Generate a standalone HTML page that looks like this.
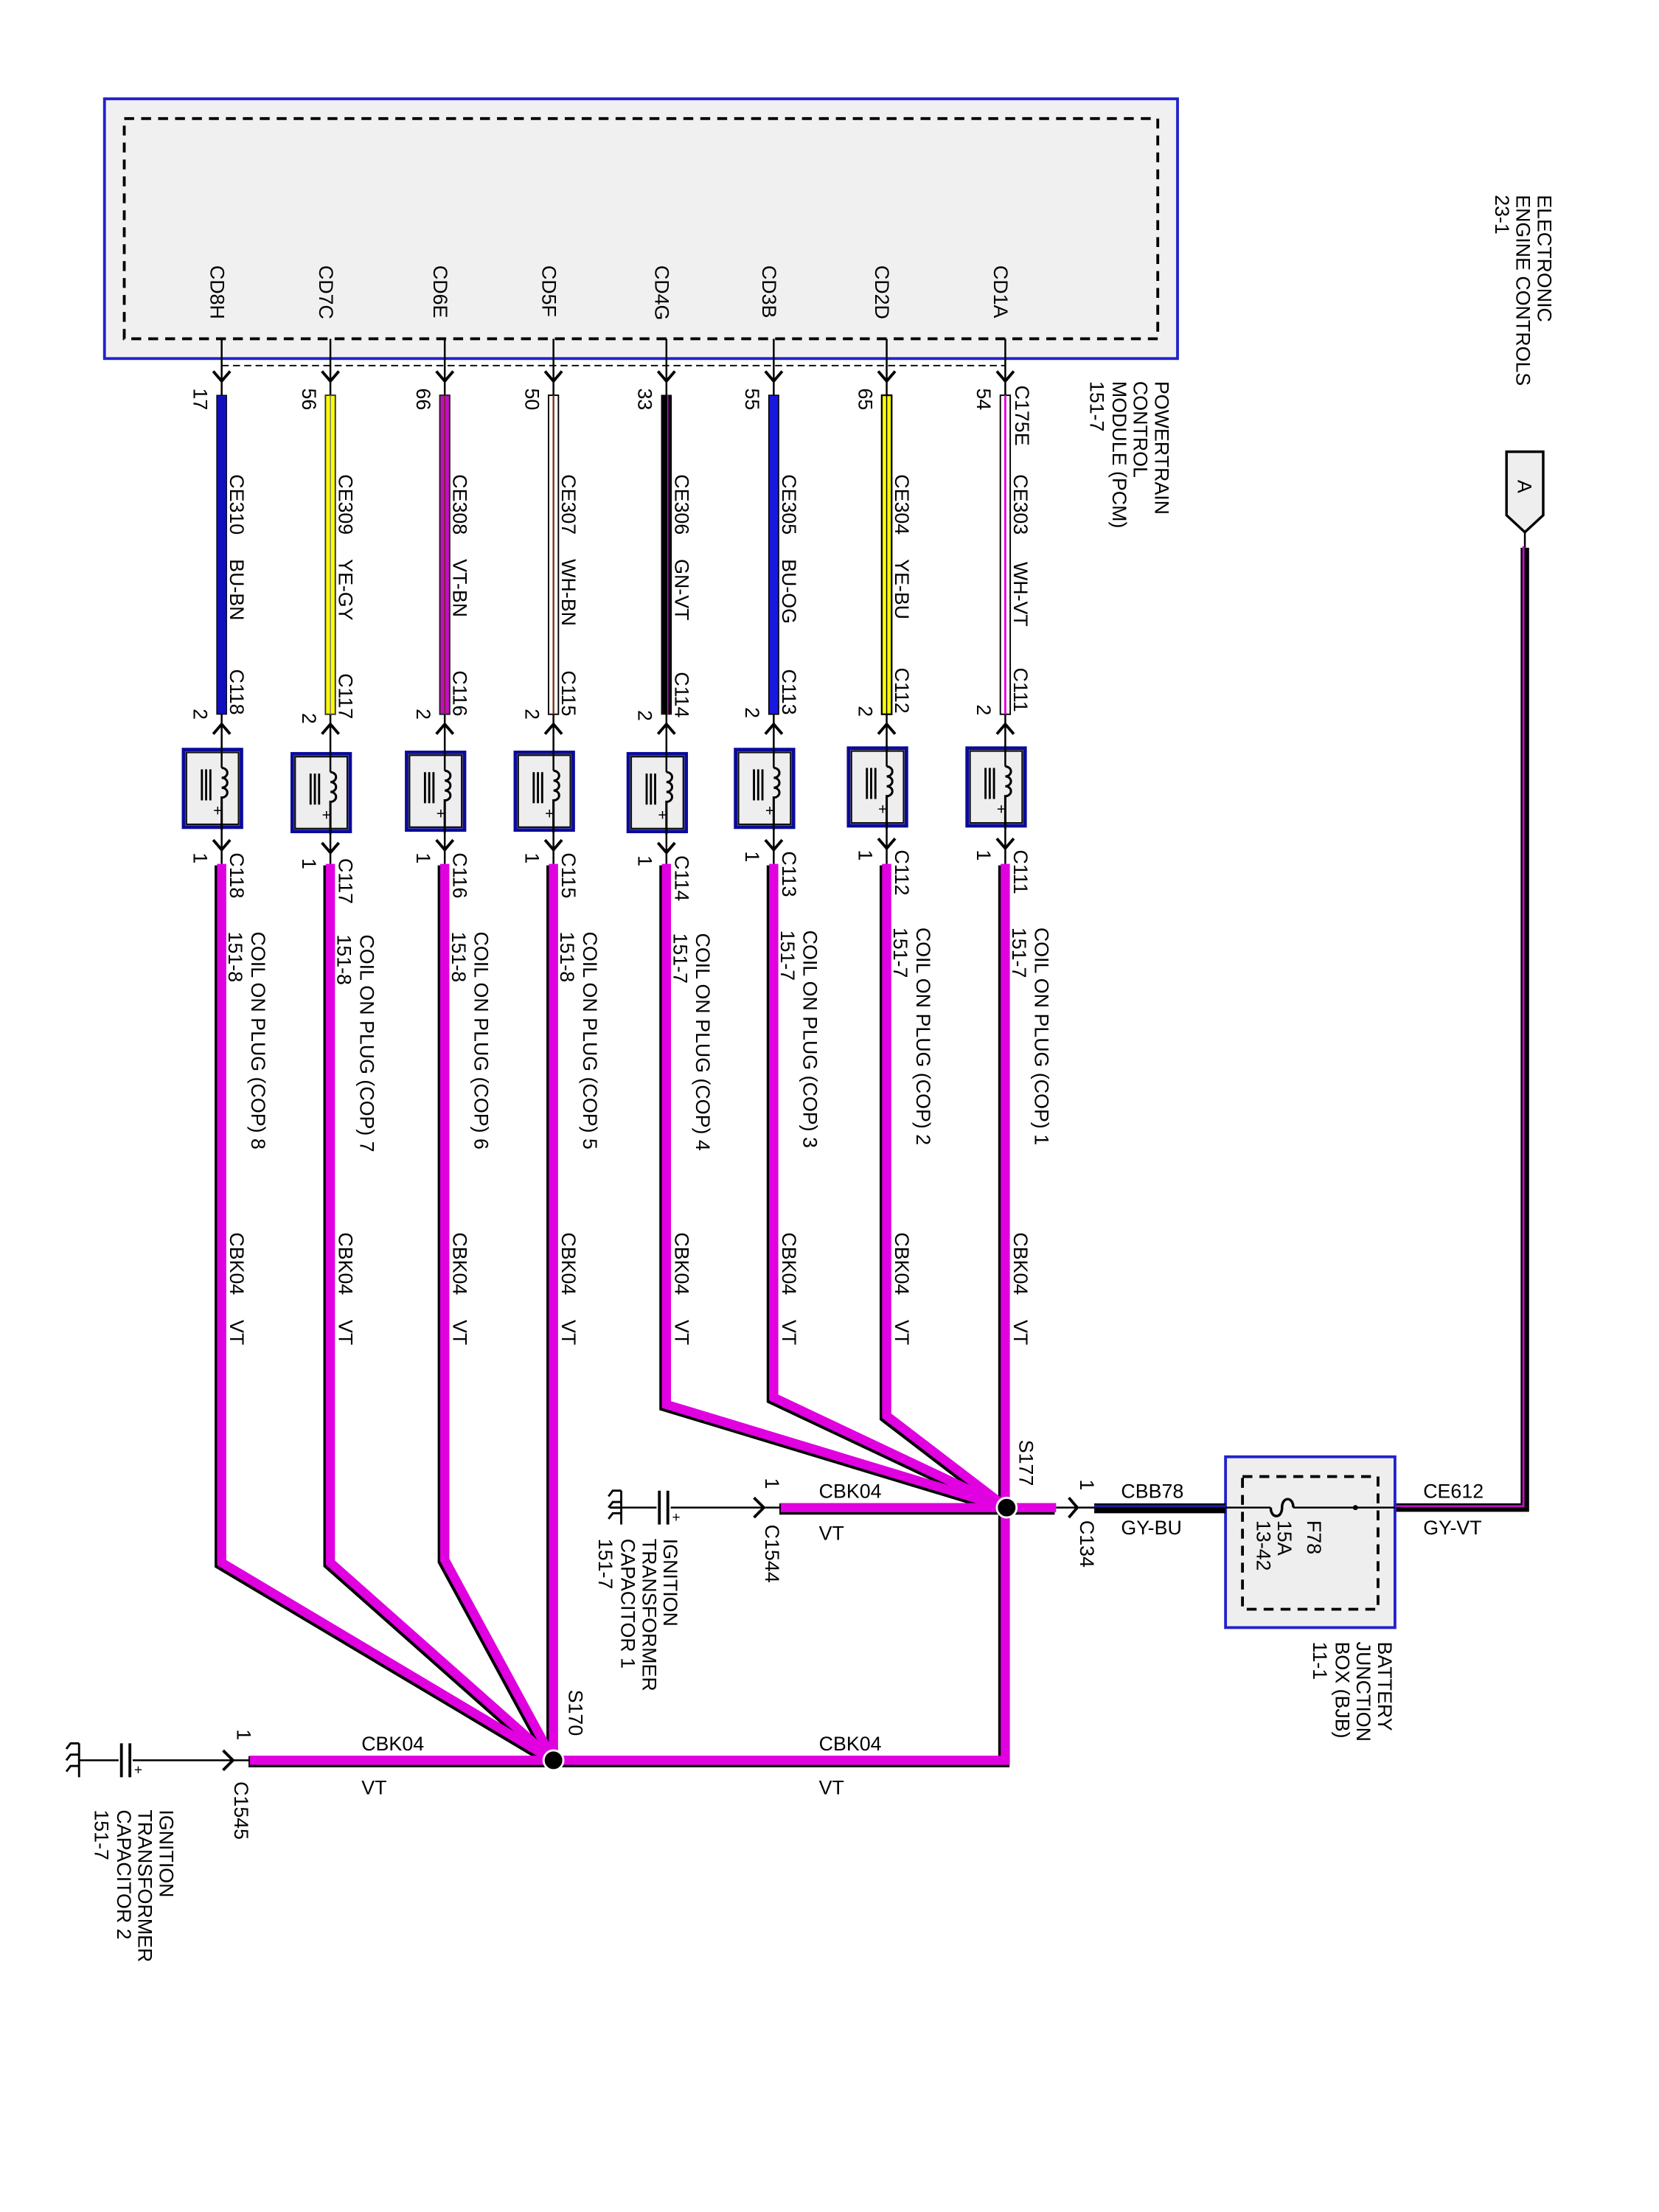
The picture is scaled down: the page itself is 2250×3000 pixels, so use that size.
<!DOCTYPE html>
<html><head><meta charset="utf-8">
<style>
html,body{margin:0;padding:0;background:#fff;}
svg{display:block;}
text{font-family:"Liberation Sans",sans-serif;font-size:14px;fill:#000;}
.s{font-size:13px;}
</style></head>
<body>
<svg width="2250" height="3000" viewBox="0 0 1175 1567" preserveAspectRatio="none" xmlns="http://www.w3.org/2000/svg">
<defs>
<g id="coil">
  <rect x="-27" y="0" width="41" height="55" fill="#eee" stroke="#0a0a9a" stroke-width="2.5"/>
  <rect x="-25" y="2" width="37" height="51" fill="none" stroke="#111" stroke-width="1.2"/>
  <line x1="0" y1="-2" x2="0" y2="13" stroke="#000" stroke-width="1.3"/>
  <path d="M0,13 a4,3.5 0 0 1 0,7 a4,3.5 0 0 1 0,7 a4,3.5 0 0 1 0,7 L0,57" fill="none" stroke="#000" stroke-width="1.6"/>
  <line x1="-14" y1="14" x2="-14" y2="36" stroke="#000" stroke-width="1.5"/>
  <line x1="-11" y1="14" x2="-11" y2="36" stroke="#000" stroke-width="1.5"/>
  <line x1="-8" y1="14" x2="-8" y2="36" stroke="#000" stroke-width="1.5"/>
  <text x="-6" y="47" style="font-size:11px">+</text>
</g>
<path id="dn" d="M-6,-7 L0,0 L6,-7" fill="none" stroke="#000" stroke-width="2"/>
<path id="up" d="M-6,7 L0,0 L6,7" fill="none" stroke="#000" stroke-width="2"/>
</defs>

<!-- PCM -->
<rect x="74" y="70" width="760" height="184" fill="#f0f0f0" stroke="#2222cc" stroke-width="2"/>
<rect x="88" y="84" width="732" height="156" fill="none" stroke="#000" stroke-width="2" stroke-dasharray="7,5"/>
<line x1="157" y1="259" x2="712" y2="259" stroke="#000" stroke-width="1" stroke-dasharray="5,3"/>

<!-- Magenta wire network -->
<g fill="none" stroke-linejoin="miter">
<g stroke="#000" stroke-width="8" transform="translate(-1,1)">
  <polyline points="157,612 157,1107 392,1247"/>
  <polyline points="234,612 234,1107 392,1247"/>
  <polyline points="315,612 315,1105 392,1247"/>
  <polyline points="392,612 392,1247"/>
  <polyline points="472,612 472,995 713,1068"/>
  <polyline points="548,612 548,990 713,1068"/>
  <polyline points="628,612 628,1003 713,1068"/>
  <polyline points="712,612 712,1247 392,1247"/>
  <polyline points="392,1247 177,1247"/>
  <polyline points="713,1068 553,1068"/>
  <polyline points="713,1068 748,1068"/>
</g>
<g stroke="#e000e0" stroke-width="6.5">
  <polyline points="157,612 157,1107 392,1247"/>
  <polyline points="234,612 234,1107 392,1247"/>
  <polyline points="315,612 315,1105 392,1247"/>
  <polyline points="392,612 392,1247"/>
  <polyline points="472,612 472,995 713,1068"/>
  <polyline points="548,612 548,990 713,1068"/>
  <polyline points="628,612 628,1003 713,1068"/>
  <polyline points="712,612 712,1247 392,1247"/>
  <polyline points="392,1247 177,1247"/>
  <polyline points="713,1068 553,1068"/>
  <polyline points="713,1068 748,1068"/>
</g>
</g>
<circle cx="713" cy="1068" r="7" fill="#000" stroke="#fff" stroke-width="1.5"/>
<circle cx="392" cy="1247" r="7" fill="#000" stroke="#fff" stroke-width="1.5"/>

<!-- Columns -->
<g>
<g stroke="#000" stroke-width="1.3">
<line x1="157" y1="240" x2="157" y2="612"/><line x1="234" y1="240" x2="234" y2="612"/>
<line x1="315" y1="240" x2="315" y2="612"/><line x1="392" y1="240" x2="392" y2="612"/>
<line x1="472" y1="240" x2="472" y2="612"/><line x1="548" y1="240" x2="548" y2="612"/>
<line x1="628" y1="240" x2="628" y2="612"/><line x1="712" y1="240" x2="712" y2="612"/>
</g>
<rect x="153.5" y="280" width="7" height="226" fill="#1010c0" stroke="#000" stroke-width="0.6"/>
<rect x="230.5" y="280" width="7" height="226" fill="#ffff00" stroke="#333" stroke-width="1"/><line x1="234" y1="280" x2="234" y2="506" stroke="#777" stroke-width="0.8"/>
<rect x="311.5" y="280" width="7" height="226" fill="#c010c0" stroke="#222" stroke-width="1"/><line x1="315" y1="280" x2="315" y2="506" stroke="#6a2a10" stroke-width="0.8"/>
<rect x="388.5" y="280" width="7" height="226" fill="#fff" stroke="#000" stroke-width="1"/><line x1="392" y1="280" x2="392" y2="506" stroke="#7a2a10" stroke-width="1.2"/>
<rect x="468.5" y="280" width="7" height="226" fill="#000" stroke="#000" stroke-width="0.6"/><line x1="473" y1="280" x2="473" y2="506" stroke="#c010c0" stroke-width="0.8"/>
<rect x="544.5" y="280" width="7" height="226" fill="#1818e0" stroke="#000" stroke-width="0.8"/>
<rect x="624.5" y="280" width="7" height="226" fill="#ffff00" stroke="#000" stroke-width="1.2"/><line x1="628" y1="280" x2="628" y2="506" stroke="#000" stroke-width="0.8"/>
<rect x="708.5" y="280" width="7" height="226" fill="#fff" stroke="#000" stroke-width="1"/><line x1="712" y1="280" x2="712" y2="506" stroke="#e000e0" stroke-width="1.5"/>
<use href="#coil" x="157" y="531"/><use href="#coil" x="234" y="534"/>
<use href="#coil" x="315" y="533"/><use href="#coil" x="392" y="533"/>
<use href="#coil" x="472" y="534"/><use href="#coil" x="548" y="531"/>
<use href="#coil" x="628" y="530"/><use href="#coil" x="712" y="530"/>
<g>
<use href="#dn" x="157" y="270"/><use href="#dn" x="234" y="270"/><use href="#dn" x="315" y="270"/><use href="#dn" x="392" y="270"/>
<use href="#dn" x="472" y="270"/><use href="#dn" x="548" y="270"/><use href="#dn" x="628" y="270"/><use href="#dn" x="712" y="270"/>
<use href="#up" x="157" y="513"/><use href="#up" x="234" y="513"/><use href="#up" x="315" y="513"/><use href="#up" x="392" y="513"/>
<use href="#up" x="472" y="513"/><use href="#up" x="548" y="513"/><use href="#up" x="628" y="513"/><use href="#up" x="712" y="513"/>
<use href="#dn" x="157" y="602"/><use href="#dn" x="234" y="604"/><use href="#dn" x="315" y="602"/><use href="#dn" x="392" y="602"/>
<use href="#dn" x="472" y="604"/><use href="#dn" x="548" y="602"/><use href="#dn" x="628" y="601"/><use href="#dn" x="712" y="601"/>
</g>
</g>

<g>
<text transform="translate(149,188) rotate(90)">CD8H</text>
<text transform="translate(226,188) rotate(90)">CD7C</text>
<text transform="translate(307,188) rotate(90)">CD6E</text>
<text transform="translate(384,188) rotate(90)">CD5F</text>
<text transform="translate(464,188) rotate(90)">CD4G</text>
<text transform="translate(540,188) rotate(90)">CD3B</text>
<text transform="translate(620,188) rotate(90)">CD2D</text>
<text transform="translate(704,188) rotate(90)">CD1A</text>

<text transform="translate(137,275) rotate(90)">17</text>
<text transform="translate(214,275) rotate(90)">56</text>
<text transform="translate(295,275) rotate(90)">66</text>
<text transform="translate(372,275) rotate(90)">50</text>
<text transform="translate(452,275) rotate(90)">33</text>
<text transform="translate(528,275) rotate(90)">55</text>
<text transform="translate(608,275) rotate(90)">65</text>
<text transform="translate(692,275) rotate(90)">54</text>
<text transform="translate(719,273) rotate(90)">C175E</text>

<text transform="translate(163,336) rotate(90)">CE310</text><text transform="translate(163,396) rotate(90)">BU-BN</text>
<text transform="translate(240,336) rotate(90)">CE309</text><text transform="translate(240,396) rotate(90)">YE-GY</text>
<text transform="translate(321,336) rotate(90)">CE308</text><text transform="translate(321,396) rotate(90)">VT-BN</text>
<text transform="translate(398,336) rotate(90)">CE307</text><text transform="translate(398,396) rotate(90)">WH-BN</text>
<text transform="translate(478,336) rotate(90)">CE306</text><text transform="translate(478,396) rotate(90)">GN-VT</text>
<text transform="translate(554,336) rotate(90)">CE305</text><text transform="translate(554,396) rotate(90)">BU-OG</text>
<text transform="translate(634,336) rotate(90)">CE304</text><text transform="translate(634,396) rotate(90)">YE-BU</text>
<text transform="translate(718,336) rotate(90)">CE303</text><text transform="translate(718,398) rotate(90)">WH-VT</text>

<text transform="translate(163,474) rotate(90)">C118</text><text transform="translate(137,502) rotate(90)">2</text>
<text transform="translate(240,477) rotate(90)">C117</text><text transform="translate(214,505) rotate(90)">2</text>
<text transform="translate(321,475) rotate(90)">C116</text><text transform="translate(295,502) rotate(90)">2</text>
<text transform="translate(398,475) rotate(90)">C115</text><text transform="translate(372,502) rotate(90)">2</text>
<text transform="translate(478,476) rotate(90)">C114</text><text transform="translate(452,503) rotate(90)">2</text>
<text transform="translate(554,474) rotate(90)">C113</text><text transform="translate(528,501) rotate(90)">2</text>
<text transform="translate(634,473) rotate(90)">C112</text><text transform="translate(608,500) rotate(90)">2</text>
<text transform="translate(718,473) rotate(90)">C111</text><text transform="translate(692,499) rotate(90)">2</text>

<text transform="translate(163,604) rotate(90)">C118</text><text transform="translate(137,604) rotate(90)">1</text>
<text transform="translate(240,608) rotate(90)">C117</text><text transform="translate(214,608) rotate(90)">1</text>
<text transform="translate(321,604) rotate(90)">C116</text><text transform="translate(295,604) rotate(90)">1</text>
<text transform="translate(398,604) rotate(90)">C115</text><text transform="translate(372,604) rotate(90)">1</text>
<text transform="translate(478,606) rotate(90)">C114</text><text transform="translate(452,606) rotate(90)">1</text>
<text transform="translate(554,603) rotate(90)">C113</text><text transform="translate(528,603) rotate(90)">1</text>
<text transform="translate(634,602) rotate(90)">C112</text><text transform="translate(608,602) rotate(90)">1</text>
<text transform="translate(718,602) rotate(90)">C111</text><text transform="translate(692,602) rotate(90)">1</text>

<text transform="translate(178,660) rotate(90)">COIL ON PLUG (COP) 8</text><text transform="translate(162,660) rotate(90)">151-8</text>
<text transform="translate(255,662) rotate(90)">COIL ON PLUG (COP) 7</text><text transform="translate(239,662) rotate(90)">151-8</text>
<text transform="translate(336,660) rotate(90)">COIL ON PLUG (COP) 6</text><text transform="translate(320,660) rotate(90)">151-8</text>
<text transform="translate(413,660) rotate(90)">COIL ON PLUG (COP) 5</text><text transform="translate(397,660) rotate(90)">151-8</text>
<text transform="translate(493,661) rotate(90)">COIL ON PLUG (COP) 4</text><text transform="translate(477,661) rotate(90)">151-7</text>
<text transform="translate(569,659) rotate(90)">COIL ON PLUG (COP) 3</text><text transform="translate(553,659) rotate(90)">151-7</text>
<text transform="translate(649,657) rotate(90)">COIL ON PLUG (COP) 2</text><text transform="translate(633,657) rotate(90)">151-7</text>
<text transform="translate(733,657) rotate(90)">COIL ON PLUG (COP) 1</text><text transform="translate(717,657) rotate(90)">151-7</text>

<text transform="translate(163,873) rotate(90)">CBK04</text><text transform="translate(163,935) rotate(90)">VT</text>
<text transform="translate(240,873) rotate(90)">CBK04</text><text transform="translate(240,935) rotate(90)">VT</text>
<text transform="translate(321,873) rotate(90)">CBK04</text><text transform="translate(321,935) rotate(90)">VT</text>
<text transform="translate(398,873) rotate(90)">CBK04</text><text transform="translate(398,935) rotate(90)">VT</text>
<text transform="translate(478,873) rotate(90)">CBK04</text><text transform="translate(478,935) rotate(90)">VT</text>
<text transform="translate(554,873) rotate(90)">CBK04</text><text transform="translate(554,935) rotate(90)">VT</text>
<text transform="translate(634,873) rotate(90)">CBK04</text><text transform="translate(634,935) rotate(90)">VT</text>
<text transform="translate(718,873) rotate(90)">CBK04</text><text transform="translate(718,935) rotate(90)">VT</text>
</g>

<text transform="translate(818,270) rotate(90)">POWERTRAIN</text>
<text transform="translate(803,270) rotate(90)">CONTROL</text>
<text transform="translate(788,270) rotate(90)">MODULE (PCM)</text>
<text transform="translate(772,270) rotate(90)">151-7</text>

<text transform="translate(1089,138) rotate(90)">ELECTRONIC</text>
<text transform="translate(1074,138) rotate(90)">ENGINE CONTROLS</text>
<text transform="translate(1059,138) rotate(90)">23-1</text>

<path d="M1067,320 L1093,320 L1093,365 L1080,377 L1067,365 Z" fill="#eee" stroke="#000" stroke-width="1.8"/>
<text transform="translate(1075,340) rotate(90)">A</text>
<line x1="1080" y1="377" x2="1080" y2="388" stroke="#000" stroke-width="1.3"/>
<polyline points="1080,388 1080,1068 988,1068" fill="none" stroke="#000" stroke-width="6"/>
<polyline points="1080,388 1080,1068 988,1068" fill="none" stroke="#c010c0" stroke-width="1.5" transform="translate(-1,-1)"/>

<rect x="868" y="1032" width="120" height="121" fill="#eee" stroke="#2222cc" stroke-width="2"/>
<rect x="880" y="1046" width="96" height="94" fill="none" stroke="#000" stroke-width="2" stroke-dasharray="7,5"/>
<line x1="868" y1="1068" x2="900" y2="1068" stroke="#000" stroke-width="1.3"/>
<path d="M900,1068 c0,8 8,8 8,0 c0,-8 8,-8 8,0" fill="none" stroke="#000" stroke-width="1.8"/>
<line x1="916" y1="1068" x2="988" y2="1068" stroke="#000" stroke-width="1.3"/>
<circle cx="960" cy="1068" r="1.8" fill="#000"/>
<text transform="translate(926,1077) rotate(90)">F78</text>
<text transform="translate(905,1077) rotate(90)">15A</text>
<text transform="translate(890,1077) rotate(90)">13-42</text>
<text transform="translate(976,1163) rotate(90)">BATTERY</text>
<text transform="translate(961,1163) rotate(90)">JUNCTION</text>
<text transform="translate(946,1163) rotate(90)">BOX (BJB)</text>
<text transform="translate(930,1163) rotate(90)">11-1</text>
<text x="1008" y="1061">CE612</text>
<text x="1008" y="1087">GY-VT</text>

<line x1="748" y1="1068" x2="775" y2="1068" stroke="#000" stroke-width="1.3"/>
<path d="M757,1061 L763,1068 L757,1075" fill="none" stroke="#000" stroke-width="2"/>
<rect x="775" y="1065" width="93" height="7" fill="#000"/>
<line x1="775" y1="1067" x2="868" y2="1067" stroke="#1a1a99" stroke-width="2"/>
<text x="794" y="1061">CBB78</text>
<text x="794" y="1087">GY-BU</text>
<text transform="translate(765,1048) rotate(90)">1</text>
<text transform="translate(765,1077) rotate(90)">C134</text>
<text transform="translate(722,1020) rotate(90)">S177</text>

<line x1="440" y1="1068" x2="553" y2="1068" stroke="#000" stroke-width="1.3"/>
<path d="M534,1061 L541,1068 L534,1075" fill="none" stroke="#000" stroke-width="2"/>
<rect x="465" y="1056" width="10" height="24" fill="#fff"/>
<line x1="467" y1="1056" x2="467" y2="1080" stroke="#000" stroke-width="2"/>
<line x1="473" y1="1056" x2="473" y2="1080" stroke="#000" stroke-width="2"/>
<text x="476" y="1078" style="font-size:10px">+</text>
<path d="M440,1068 L432,1068 M440,1056 L434,1056 L431,1060 M440,1064 L434,1064 L431,1068 M440,1072 L434,1072 L431,1076 M440,1056 L440,1080" fill="none" stroke="#000" stroke-width="1.5"/>
<text x="580" y="1061">CBK04</text>
<text x="580" y="1091">VT</text>
<text transform="translate(542,1047) rotate(90)">1</text>
<text transform="translate(542,1080) rotate(90)">C1544</text>
<text transform="translate(470,1090) rotate(90)">IGNITION</text>
<text transform="translate(455,1090) rotate(90)">TRANSFORMER</text>
<text transform="translate(440,1090) rotate(90)">CAPACITOR 1</text>
<text transform="translate(424,1090) rotate(90)">151-7</text>

<text transform="translate(403,1197) rotate(90)">S170</text>
<line x1="56" y1="1247" x2="177" y2="1247" stroke="#000" stroke-width="1.3"/>
<path d="M158,1240 L165,1247 L158,1254" fill="none" stroke="#000" stroke-width="2"/>
<rect x="84" y="1235" width="10" height="24" fill="#fff"/>
<line x1="86" y1="1235" x2="86" y2="1259" stroke="#000" stroke-width="2"/>
<line x1="92" y1="1235" x2="92" y2="1259" stroke="#000" stroke-width="2"/>
<text x="95" y="1257" style="font-size:10px">+</text>
<path d="M56,1235 L56,1259 M56,1235 L50,1235 L47,1239 M56,1243 L50,1243 L47,1247 M56,1251 L50,1251 L47,1255" fill="none" stroke="#000" stroke-width="1.5"/>
<text transform="translate(168,1225) rotate(90)">1</text>
<text transform="translate(166,1262) rotate(90)">C1545</text>
<text transform="translate(113,1282) rotate(90)">IGNITION</text>
<text transform="translate(98,1282) rotate(90)">TRANSFORMER</text>
<text transform="translate(83,1282) rotate(90)">CAPACITOR 2</text>
<text transform="translate(67,1282) rotate(90)">151-7</text>
<text x="256" y="1240">CBK04</text>
<text x="256" y="1271">VT</text>
<text x="580" y="1240">CBK04</text>
<text x="580" y="1271">VT</text>
</svg>
</body></html>
